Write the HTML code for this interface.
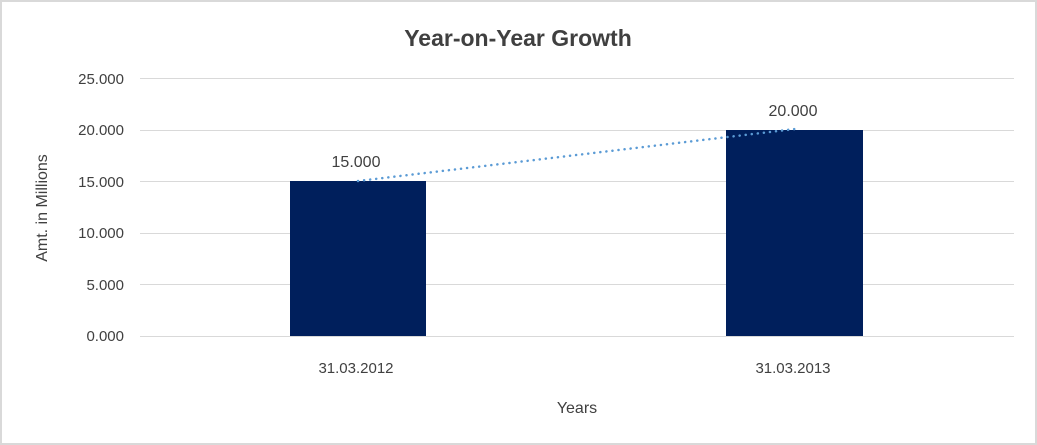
<!DOCTYPE html>
<html><head><style>
html,body{margin:0;padding:0;background:#fff;}
svg{display:block;font-family:"Liberation Sans","DejaVu Sans",sans-serif;}
</style></head><body>
<svg width="1037" height="445" viewBox="0 0 1037 445">
<rect x="1" y="1" width="1035" height="443" fill="#fff" stroke="#d9d9d9" stroke-width="2"/>
<text x="518" y="46" text-anchor="middle" font-size="23" font-weight="bold" fill="#404040">Year-on-Year Growth</text>
<g stroke="#d9d9d9" stroke-width="1">
<line x1="140" x2="1014" y1="78.5" y2="78.5"/>
<line x1="140" x2="1014" y1="130.5" y2="130.5"/>
<line x1="140" x2="1014" y1="181.5" y2="181.5"/>
<line x1="140" x2="1014" y1="233.5" y2="233.5"/>
<line x1="140" x2="1014" y1="284.5" y2="284.5"/>
<line x1="140" x2="1014" y1="336.5" y2="336.5"/>
</g>
<g font-size="15" fill="#404040" text-anchor="end">
<text x="124" y="84">25.000</text>
<text x="124" y="135">20.000</text>
<text x="124" y="187">15.000</text>
<text x="124" y="238">10.000</text>
<text x="124" y="290">5.000</text>
<text x="124" y="341">0.000</text>
</g>
<rect x="290" y="181" width="136" height="155" fill="#001f5c"/>
<rect x="726" y="130" width="137" height="206" fill="#001f5c"/>
<line x1="358" y1="181" x2="795" y2="129" stroke="#5b9bd5" stroke-width="2.5" stroke-dasharray="0.1,6" stroke-linecap="round"/>
<g font-size="16" fill="#404040" text-anchor="middle">
<text x="356" y="167">15.000</text>
<text x="793" y="116">20.000</text>
<text x="356" y="373" font-size="15">31.03.2012</text>
<text x="793" y="373" font-size="15">31.03.2013</text>
<text x="577" y="413">Years</text>
<text transform="translate(47,208) rotate(-90)">Amt. in Millions</text>
</g>
</svg>
</body></html>
